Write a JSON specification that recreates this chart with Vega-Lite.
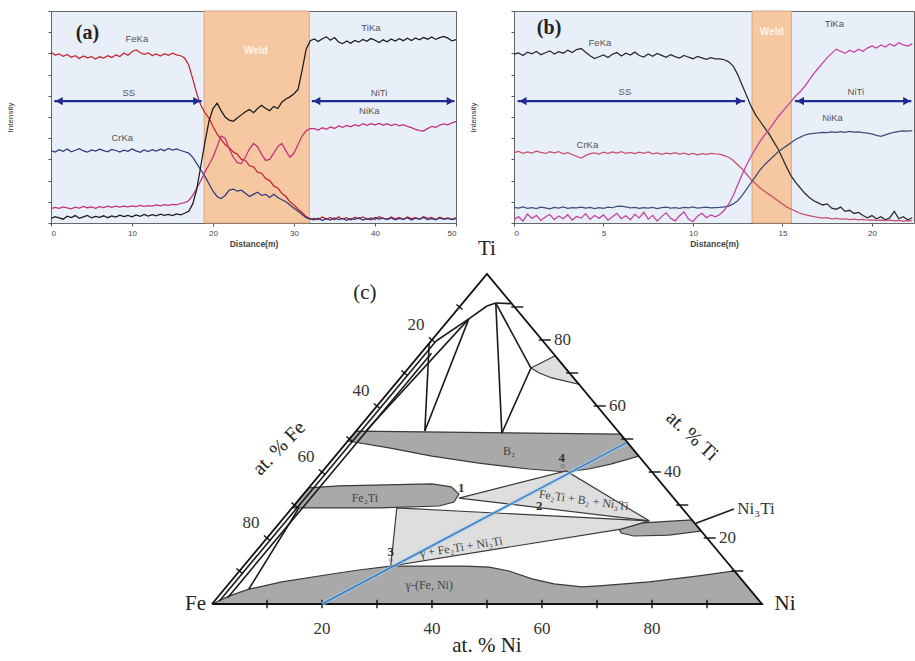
{
"$schema": "https://vega.github.io/schema/vega-lite/v6.json",
"padding": {"left": 6, "top": 10, "right": 0, "bottom": 0},
"bounds": "flush",
"spacing": 235,
"config": {"view": {"stroke": null}, "font": "Liberation Sans"},
"resolve": {"scale": {"x": "independent", "y": "independent", "color": "independent"}},
"datasets": {
"lsA": [
{"d":0,"Fe":80.5,"Cr":34.2,"Ni":6.8,"Ti":2.1},{"d":0.5,"Fe":79.2,"Cr":33.5,"Ni":7.4,"Ti":3.0},{"d":1,"Fe":79.8,"Cr":34.6,"Ni":6.9,"Ti":2.4},{"d":1.5,"Fe":78.6,"Cr":33.8,"Ni":7.6,"Ti":1.8},{"d":2,"Fe":79.5,"Cr":34.9,"Ni":7.1,"Ti":3.2},{"d":2.5,"Fe":78.2,"Cr":33.6,"Ni":6.7,"Ti":2.6},{"d":3,"Fe":78.9,"Cr":34.3,"Ni":7.5,"Ti":3.5},{"d":3.5,"Fe":77.6,"Cr":35.1,"Ni":7.0,"Ti":2.2},{"d":4,"Fe":78.8,"Cr":34.0,"Ni":7.8,"Ti":2.9},{"d":4.5,"Fe":77.9,"Cr":33.4,"Ni":7.2,"Ti":3.6},
{"d":5,"Fe":78.5,"Cr":34.5,"Ni":7.6,"Ti":2.4},{"d":5.5,"Fe":77.3,"Cr":33.9,"Ni":6.9,"Ti":3.1},{"d":6,"Fe":78.4,"Cr":34.8,"Ni":7.7,"Ti":2.7},{"d":6.5,"Fe":77.8,"Cr":34.1,"Ni":7.3,"Ti":3.4},{"d":7,"Fe":78.9,"Cr":33.6,"Ni":7.9,"Ti":2.5},{"d":7.5,"Fe":78.1,"Cr":34.7,"Ni":7.4,"Ti":3.3},{"d":8,"Fe":79.3,"Cr":34.2,"Ni":8.0,"Ti":2.8},{"d":8.5,"Fe":78.5,"Cr":33.5,"Ni":7.5,"Ti":3.7},{"d":9,"Fe":80.2,"Cr":34.4,"Ni":7.9,"Ti":3.0},{"d":9.5,"Fe":79.1,"Cr":33.8,"Ni":7.6,"Ti":3.6},
{"d":10,"Fe":80.8,"Cr":34.9,"Ni":8.1,"Ti":2.9},{"d":10.5,"Fe":81.6,"Cr":34.0,"Ni":7.7,"Ti":3.8},{"d":11,"Fe":80.4,"Cr":33.3,"Ni":8.3,"Ti":3.1},{"d":11.5,"Fe":79.6,"Cr":34.5,"Ni":7.8,"Ti":4.0},{"d":12,"Fe":80.2,"Cr":33.7,"Ni":8.2,"Ti":3.3},{"d":12.5,"Fe":79.0,"Cr":34.6,"Ni":8.0,"Ti":3.9},{"d":13,"Fe":79.7,"Cr":33.9,"Ni":8.5,"Ti":3.4},{"d":13.5,"Fe":78.8,"Cr":34.8,"Ni":8.1,"Ti":4.2},{"d":14,"Fe":79.9,"Cr":34.1,"Ni":8.7,"Ti":3.6},{"d":14.5,"Fe":79.1,"Cr":35.2,"Ni":8.3,"Ti":4.1},
{"d":15,"Fe":80.1,"Cr":34.4,"Ni":8.8,"Ti":3.5},{"d":15.5,"Fe":79.3,"Cr":35.0,"Ni":8.6,"Ti":4.3},{"d":16,"Fe":78.9,"Cr":34.2,"Ni":9.2,"Ti":3.8},{"d":16.5,"Fe":77.8,"Cr":33.6,"Ni":9.6,"Ti":4.6},
{"d":17,"Fe":74.5,"Cr":33.0,"Ni":10.5,"Ti":5.5},{"d":17.5,"Fe":68.0,"Cr":31.0,"Ni":13.0,"Ti":9.0},{"d":18,"Fe":61.0,"Cr":28.0,"Ni":16.5,"Ti":16.0},{"d":18.5,"Fe":55.5,"Cr":25.0,"Ni":20.0,"Ti":27.0},{"d":19,"Fe":52.0,"Cr":22.0,"Ni":24.0,"Ti":38.0},{"d":19.5,"Fe":49.5,"Cr":18.5,"Ni":27.5,"Ti":48.0},
{"d":20,"Fe":45.5,"Cr":15.0,"Ni":31.0,"Ti":54.0},{"d":20.5,"Fe":42.0,"Cr":12.5,"Ni":36.0,"Ti":56.5},{"d":21,"Fe":39.5,"Cr":11.5,"Ni":41.0,"Ti":53.0},{"d":21.5,"Fe":37.0,"Cr":13.0,"Ni":40.0,"Ti":50.0},{"d":22,"Fe":35.5,"Cr":15.5,"Ni":35.0,"Ti":48.5},{"d":22.5,"Fe":33.5,"Cr":16.0,"Ni":31.0,"Ti":48.0},{"d":23,"Fe":32.5,"Cr":15.0,"Ni":28.5,"Ti":49.5},{"d":23.5,"Fe":30.0,"Cr":15.5,"Ni":28.0,"Ti":51.0},{"d":24,"Fe":29.5,"Cr":14.0,"Ni":31.0,"Ti":52.5},{"d":24.5,"Fe":27.0,"Cr":12.5,"Ni":35.0,"Ti":53.5},
{"d":25,"Fe":26.5,"Cr":13.5,"Ni":37.5,"Ti":52.0},{"d":25.5,"Fe":24.0,"Cr":14.5,"Ni":36.0,"Ti":54.0},{"d":26,"Fe":23.5,"Cr":13.0,"Ni":32.5,"Ti":55.5},{"d":26.5,"Fe":21.0,"Cr":13.5,"Ni":29.5,"Ti":54.0},{"d":27,"Fe":20.0,"Cr":12.0,"Ni":30.0,"Ti":53.0},{"d":27.5,"Fe":17.5,"Cr":13.5,"Ni":33.0,"Ti":55.0},{"d":28,"Fe":16.5,"Cr":12.0,"Ni":36.0,"Ti":54.0},{"d":28.5,"Fe":14.0,"Cr":11.0,"Ni":37.5,"Ti":57.0},{"d":29,"Fe":12.5,"Cr":10.0,"Ni":34.0,"Ti":58.5},{"d":29.5,"Fe":10.0,"Cr":8.5,"Ni":31.0,"Ti":59.5},
{"d":30,"Fe":8.5,"Cr":7.0,"Ni":33.0,"Ti":61.0},{"d":30.5,"Fe":6.5,"Cr":5.5,"Ni":37.0,"Ti":63.0},{"d":31,"Fe":5.0,"Cr":4.0,"Ni":41.0,"Ti":72.0},{"d":31.5,"Fe":3.0,"Cr":2.5,"Ni":43.5,"Ti":82.0},{"d":32,"Fe":2.0,"Cr":1.8,"Ni":44.5,"Ti":86.0},
{"d":32.5,"Fe":2.2,"Cr":1.5,"Ni":44.5,"Ti":86.8},{"d":33,"Fe":1.6,"Cr":2.3,"Ni":43.8,"Ti":85.6},{"d":33.5,"Fe":2.8,"Cr":1.2,"Ni":44.9,"Ti":86.9},{"d":34,"Fe":1.9,"Cr":2.0,"Ni":44.2,"Ti":87.8},{"d":34.5,"Fe":2.6,"Cr":1.4,"Ni":45.3,"Ti":86.2},{"d":35,"Fe":1.5,"Cr":2.4,"Ni":44.6,"Ti":87.5},{"d":35.5,"Fe":2.9,"Cr":1.6,"Ni":45.8,"Ti":85.4},{"d":36,"Fe":1.8,"Cr":2.2,"Ni":45.1,"Ti":84.6},{"d":36.5,"Fe":2.5,"Cr":1.3,"Ni":46.0,"Ti":85.9},{"d":37,"Fe":1.4,"Cr":2.1,"Ni":45.4,"Ti":84.8},
{"d":37.5,"Fe":2.7,"Cr":1.7,"Ni":46.4,"Ti":86.1},{"d":38,"Fe":2.0,"Cr":2.5,"Ni":45.7,"Ti":85.3},{"d":38.5,"Fe":2.9,"Cr":1.4,"Ni":46.8,"Ti":86.6},{"d":39,"Fe":1.7,"Cr":2.2,"Ni":46.1,"Ti":85.7},{"d":39.5,"Fe":2.4,"Cr":1.5,"Ni":46.9,"Ti":87.0},{"d":40,"Fe":1.6,"Cr":2.6,"Ni":46.3,"Ti":86.2},{"d":40.5,"Fe":3.0,"Cr":1.8,"Ni":47.0,"Ti":85.1},{"d":41,"Fe":2.2,"Cr":2.3,"Ni":46.2,"Ti":86.4},{"d":41.5,"Fe":1.8,"Cr":1.6,"Ni":46.8,"Ti":85.5},{"d":42,"Fe":2.8,"Cr":2.4,"Ni":46.0,"Ti":86.8},
{"d":42.5,"Fe":2.0,"Cr":1.5,"Ni":46.6,"Ti":85.8},{"d":43,"Fe":2.6,"Cr":2.2,"Ni":45.8,"Ti":86.9},{"d":43.5,"Fe":1.7,"Cr":1.7,"Ni":46.4,"Ti":86.0},{"d":44,"Fe":2.9,"Cr":2.5,"Ni":45.6,"Ti":87.2},{"d":44.5,"Fe":2.1,"Cr":1.4,"Ni":45.0,"Ti":86.1},{"d":45,"Fe":2.5,"Cr":2.3,"Ni":44.2,"Ti":87.3},{"d":45.5,"Fe":1.8,"Cr":1.8,"Ni":43.6,"Ti":86.4},{"d":46,"Fe":3.0,"Cr":2.6,"Ni":43.4,"Ti":87.5},{"d":46.5,"Fe":2.2,"Cr":1.6,"Ni":44.5,"Ti":86.7},{"d":47,"Fe":2.6,"Cr":2.1,"Ni":45.6,"Ti":87.8},
{"d":47.5,"Fe":1.6,"Cr":1.5,"Ni":45.1,"Ti":86.6},{"d":48,"Fe":2.7,"Cr":2.4,"Ni":46.2,"Ti":87.4},{"d":48.5,"Fe":2.0,"Cr":1.7,"Ni":46.7,"Ti":88.0},{"d":49,"Fe":2.4,"Cr":2.2,"Ni":46.3,"Ti":87.2},{"d":49.5,"Fe":1.7,"Cr":1.6,"Ni":47.2,"Ti":85.9},{"d":50,"Fe":2.5,"Cr":2.0,"Ni":47.8,"Ti":86.5}
],
"lsB": [
{"d":0,"Fe":79.5,"Cr":33.2,"Ni":7.4,"Ti":1.5},{"d":0.25,"Fe":80.2,"Cr":33.8,"Ni":7.0,"Ti":3.0},{"d":0.5,"Fe":79.0,"Cr":32.9,"Ni":7.6,"Ti":0.8},{"d":0.75,"Fe":80.6,"Cr":33.5,"Ni":6.9,"Ti":4.2},{"d":1,"Fe":79.8,"Cr":33.0,"Ni":7.3,"Ti":2.1},{"d":1.25,"Fe":80.9,"Cr":33.9,"Ni":6.8,"Ti":3.6},{"d":1.5,"Fe":79.4,"Cr":33.3,"Ni":7.5,"Ti":1.2},{"d":1.75,"Fe":80.3,"Cr":32.8,"Ni":7.1,"Ti":2.8},{"d":2,"Fe":81.2,"Cr":33.6,"Ni":6.7,"Ti":4.0},{"d":2.25,"Fe":79.7,"Cr":33.1,"Ni":7.4,"Ti":1.6},
{"d":2.5,"Fe":80.8,"Cr":33.7,"Ni":7.0,"Ti":3.3},{"d":2.75,"Fe":80.1,"Cr":32.6,"Ni":7.6,"Ti":2.0},{"d":3,"Fe":81.5,"Cr":33.2,"Ni":6.9,"Ti":3.9},{"d":3.25,"Fe":80.4,"Cr":32.3,"Ni":7.3,"Ti":1.4},{"d":3.5,"Fe":81.8,"Cr":31.4,"Ni":7.1,"Ti":3.1},{"d":3.75,"Fe":82.3,"Cr":30.6,"Ni":7.5,"Ti":2.3},{"d":4,"Fe":80.5,"Cr":31.8,"Ni":7.0,"Ti":4.4},{"d":4.25,"Fe":78.9,"Cr":32.7,"Ni":7.4,"Ti":1.7},{"d":4.5,"Fe":77.6,"Cr":33.1,"Ni":6.8,"Ti":3.5},{"d":4.75,"Fe":78.4,"Cr":32.5,"Ni":7.3,"Ti":2.2},
{"d":5,"Fe":79.3,"Cr":33.4,"Ni":6.9,"Ti":3.8},{"d":5.25,"Fe":78.1,"Cr":32.9,"Ni":7.5,"Ti":1.3},{"d":5.5,"Fe":79.6,"Cr":33.5,"Ni":7.2,"Ti":2.9},{"d":5.75,"Fe":80.4,"Cr":33.0,"Ni":7.8,"Ti":4.5},{"d":6,"Fe":78.8,"Cr":33.6,"Ni":8.0,"Ti":2.0},{"d":6.25,"Fe":80.1,"Cr":32.8,"Ni":7.6,"Ti":3.4},{"d":6.5,"Fe":79.2,"Cr":33.3,"Ni":7.1,"Ti":1.5},{"d":6.75,"Fe":80.6,"Cr":32.7,"Ni":7.4,"Ti":4.1},{"d":7,"Fe":79.0,"Cr":33.4,"Ni":6.9,"Ti":2.4},{"d":7.25,"Fe":78.3,"Cr":32.9,"Ni":7.3,"Ti":5.0},
{"d":7.5,"Fe":79.7,"Cr":33.5,"Ni":7.0,"Ti":1.8},{"d":7.75,"Fe":78.6,"Cr":32.6,"Ni":7.4,"Ti":3.6},{"d":8,"Fe":80.0,"Cr":33.1,"Ni":6.8,"Ti":0.9},{"d":8.25,"Fe":79.1,"Cr":32.4,"Ni":7.2,"Ti":3.0},{"d":8.5,"Fe":78.2,"Cr":33.0,"Ni":7.5,"Ti":4.8},{"d":8.75,"Fe":79.4,"Cr":32.6,"Ni":7.0,"Ti":2.2},{"d":9,"Fe":78.5,"Cr":33.2,"Ni":7.3,"Ti":1.0},{"d":9.25,"Fe":77.8,"Cr":32.5,"Ni":6.9,"Ti":3.4},{"d":9.5,"Fe":79.0,"Cr":32.9,"Ni":7.4,"Ti":5.2},{"d":9.75,"Fe":78.2,"Cr":32.3,"Ni":7.1,"Ti":1.9},
{"d":10,"Fe":77.5,"Cr":32.8,"Ni":7.6,"Ti":0.6},{"d":10.25,"Fe":78.6,"Cr":32.2,"Ni":7.0,"Ti":3.2},{"d":10.5,"Fe":77.9,"Cr":32.7,"Ni":7.3,"Ti":4.6},{"d":10.75,"Fe":77.2,"Cr":32.4,"Ni":7.5,"Ti":2.5},{"d":11,"Fe":78.0,"Cr":32.8,"Ni":7.1,"Ti":3.8},{"d":11.25,"Fe":77.4,"Cr":32.6,"Ni":7.3,"Ti":2.9},{"d":11.5,"Fe":77.4,"Cr":32.5,"Ni":7.4,"Ti":4.0},{"d":11.75,"Fe":77.0,"Cr":31.8,"Ni":7.6,"Ti":6.0},
{"d":12,"Fe":76.0,"Cr":31.0,"Ni":8.0,"Ti":9.0},{"d":12.25,"Fe":74.0,"Cr":29.5,"Ni":9.0,"Ti":13.0},{"d":12.5,"Fe":70.0,"Cr":27.5,"Ni":10.5,"Ti":18.0},{"d":12.75,"Fe":65.0,"Cr":25.5,"Ni":13.0,"Ti":23.0},{"d":13,"Fe":60.0,"Cr":23.0,"Ni":16.0,"Ti":27.5},{"d":13.25,"Fe":55.0,"Cr":20.5,"Ni":19.0,"Ti":31.5},{"d":13.5,"Fe":51.0,"Cr":18.5,"Ni":22.0,"Ti":35.0},{"d":13.75,"Fe":48.0,"Cr":16.5,"Ni":25.0,"Ti":38.5},
{"d":14,"Fe":45.0,"Cr":15.0,"Ni":27.5,"Ti":41.5},{"d":14.25,"Fe":42.0,"Cr":13.5,"Ni":29.5,"Ti":44.0},{"d":14.5,"Fe":38.5,"Cr":12.0,"Ni":31.5,"Ti":47.0},{"d":14.75,"Fe":35.0,"Cr":10.5,"Ni":33.5,"Ti":50.0},{"d":15,"Fe":30.5,"Cr":9.0,"Ni":35.0,"Ti":52.5},{"d":15.25,"Fe":26.0,"Cr":7.5,"Ni":36.5,"Ti":55.0},{"d":15.5,"Fe":22.0,"Cr":6.5,"Ni":38.0,"Ti":57.5},{"d":15.75,"Fe":19.0,"Cr":5.5,"Ni":39.5,"Ti":60.0},
{"d":16,"Fe":16.5,"Cr":4.5,"Ni":40.5,"Ti":62.0},{"d":16.25,"Fe":14.0,"Cr":4.0,"Ni":41.5,"Ti":64.5},{"d":16.5,"Fe":12.0,"Cr":3.5,"Ni":42.0,"Ti":67.5},{"d":16.75,"Fe":10.5,"Cr":3.0,"Ni":42.3,"Ti":70.5},{"d":17,"Fe":9.5,"Cr":2.6,"Ni":42.5,"Ti":73.0},{"d":17.25,"Fe":8.5,"Cr":2.3,"Ni":42.8,"Ti":75.5},{"d":17.5,"Fe":9.0,"Cr":2.5,"Ni":42.6,"Ti":78.0},{"d":17.75,"Fe":7.0,"Cr":2.0,"Ni":43.0,"Ti":80.0},
{"d":18,"Fe":6.5,"Cr":2.2,"Ni":42.7,"Ti":82.0},{"d":18.25,"Fe":7.5,"Cr":1.8,"Ni":43.1,"Ti":81.0},{"d":18.5,"Fe":5.5,"Cr":2.0,"Ni":42.8,"Ti":80.0},{"d":18.75,"Fe":6.0,"Cr":1.6,"Ni":43.2,"Ti":81.5},{"d":19,"Fe":4.5,"Cr":1.8,"Ni":42.9,"Ti":80.5},{"d":19.25,"Fe":5.0,"Cr":1.5,"Ni":43.0,"Ti":82.0},{"d":19.5,"Fe":3.5,"Cr":1.7,"Ni":42.6,"Ti":81.0},{"d":19.75,"Fe":2.5,"Cr":1.3,"Ni":42.4,"Ti":82.5},
{"d":20,"Fe":3.5,"Cr":1.5,"Ni":42.0,"Ti":83.5},{"d":20.25,"Fe":2.0,"Cr":1.2,"Ni":41.3,"Ti":82.5},{"d":20.5,"Fe":3.0,"Cr":1.4,"Ni":40.9,"Ti":84.0},{"d":20.75,"Fe":1.5,"Cr":1.1,"Ni":41.6,"Ti":83.0},{"d":21,"Fe":2.5,"Cr":1.3,"Ni":42.3,"Ti":84.5},{"d":21.25,"Fe":5.5,"Cr":1.0,"Ni":42.8,"Ti":83.5},{"d":21.5,"Fe":2.0,"Cr":1.2,"Ni":43.2,"Ti":85.0},{"d":21.75,"Fe":3.0,"Cr":0.9,"Ni":43.5,"Ti":84.0},{"d":22,"Fe":1.5,"Cr":1.1,"Ni":43.3,"Ti":83.5},{"d":22.25,"Fe":2.5,"Cr":1.0,"Ni":43.6,"Ti":84.5}
],
"poly": [
{"g":"gam","k":"dark","X":0,"Y":0},{"g":"gam","k":"dark","X":100,"Y":0},{"g":"gam","k":"dark","X":95,"Y":10},{"g":"gam","k":"dark","X":88.5,"Y":8.5},{"g":"gam","k":"dark","X":79.5,"Y":6.7},{"g":"gam","k":"dark","X":70.4,"Y":5.5},{"g":"gam","k":"dark","X":67.3,"Y":5.2},{"g":"gam","k":"dark","X":62.2,"Y":6.1},{"g":"gam","k":"dark","X":58.2,"Y":7.6},{"g":"gam","k":"dark","X":54.0,"Y":10.0},{"g":"gam","k":"dark","X":50.4,"Y":11.2},{"g":"gam","k":"dark","X":46.2,"Y":11.5},{"g":"gam","k":"dark","X":39.5,"Y":11.5},{"g":"gam","k":"dark","X":32.5,"Y":11.5},{"g":"gam","k":"dark","X":26.7,"Y":10.3},{"g":"gam","k":"dark","X":21.8,"Y":9.1},{"g":"gam","k":"dark","X":12.7,"Y":6.7},{"g":"gam","k":"dark","X":6.7,"Y":4.5},{"g":"gam","k":"dark","X":3.1,"Y":2.4},{"g":"gam","k":"dark","X":0,"Y":0},
{"g":"b2","k":"dark","X":24.7,"Y":49.4},{"g":"b2","k":"dark","X":26.2,"Y":52.4},{"g":"b2","k":"dark","X":74.3,"Y":51.5},{"g":"b2","k":"dark","X":77.6,"Y":44.8},{"g":"b2","k":"dark","X":72.5,"Y":42.4},{"g":"b2","k":"dark","X":68.5,"Y":40.9},{"g":"b2","k":"dark","X":64.4,"Y":40.0},{"g":"b2","k":"dark","X":57.6,"Y":40.9},{"g":"b2","k":"dark","X":48.5,"Y":42.7},{"g":"b2","k":"dark","X":40.0,"Y":44.8},{"g":"b2","k":"dark","X":32.2,"Y":47.3},{"g":"b2","k":"dark","X":24.7,"Y":49.4},
{"g":"fe2ti","k":"dark","X":17.6,"Y":35.2},{"g":"fe2ti","k":"dark","X":23.1,"Y":35.8},{"g":"fe2ti","k":"dark","X":40.0,"Y":36.4},{"g":"fe2ti","k":"dark","X":43.5,"Y":35.5},{"g":"fe2ti","k":"dark","X":44.9,"Y":33.3},{"g":"fe2ti","k":"dark","X":44.0,"Y":30.9},{"g":"fe2ti","k":"dark","X":41.3,"Y":29.7},{"g":"fe2ti","k":"dark","X":30.4,"Y":29.1},{"g":"fe2ti","k":"dark","X":14.6,"Y":29.1},{"g":"fe2ti","k":"dark","X":17.6,"Y":35.2},
{"g":"ni3ti","k":"dark","X":74.0,"Y":22.7},{"g":"ni3ti","k":"dark","X":77.6,"Y":24.5},{"g":"ni3ti","k":"dark","X":87.3,"Y":25.5},{"g":"ni3ti","k":"dark","X":88.9,"Y":22.1},{"g":"ni3ti","k":"dark","X":83.1,"Y":20.9},{"g":"ni3ti","k":"dark","X":76.7,"Y":20.6},{"g":"ni3ti","k":"dark","X":74.4,"Y":21.5},{"g":"ni3ti","k":"dark","X":74.0,"Y":22.7},
{"g":"triA","k":"light","X":44.9,"Y":32.1},{"g":"triA","k":"light","X":64.4,"Y":40.3},{"g":"triA","k":"light","X":79.5,"Y":25.2},{"g":"triA","k":"light","X":44.9,"Y":32.1},
{"g":"triB","k":"light","X":33.6,"Y":29.1},{"g":"triB","k":"light","X":79.5,"Y":25.2},{"g":"triB","k":"light","X":74.4,"Y":22.7},{"g":"triB","k":"light","X":32.5,"Y":11.5},{"g":"triB","k":"light","X":33.6,"Y":29.1},
{"g":"gsm","k":"light","X":58.0,"Y":71.5},{"g":"gsm","k":"light","X":62.4,"Y":75.2},{"g":"gsm","k":"light","X":66.7,"Y":66.6},{"g":"gsm","k":"light","X":61.8,"Y":68.5},{"g":"gsm","k":"light","X":59.5,"Y":70.0},{"g":"gsm","k":"light","X":58.0,"Y":71.5}
],
"segs": [
{"X":40.75,"Y":79.7,"X2":1.35,"Y2":0.9},{"X":39.9,"Y":76.0,"X2":2.9,"Y2":2.0},{"X":15.8,"Y":29.1,"X2":6.7,"Y2":4.5},
{"X":40.75,"Y":79.7,"X2":46.7,"Y2":86.4},{"X":46.7,"Y":86.4,"X2":50.0,"Y2":90.3},{"X":50.0,"Y":90.3,"X2":51.6,"Y2":91.2},{"X":51.6,"Y":91.2,"X2":54.5,"Y2":91.0},
{"X":46.7,"Y":86.4,"X2":38.7,"Y2":52.4},{"X":46.7,"Y":86.4,"X2":28.0,"Y2":52.4},{"X":39.5,"Y":79.1,"X2":38.7,"Y2":52.4},{"X":51.6,"Y":91.2,"X2":52.7,"Y2":51.8},{"X":51.6,"Y":91.2,"X2":58.0,"Y2":71.5},{"X":58.0,"Y":71.5,"X2":52.7,"Y2":51.8},
{"X":88.0,"Y":24.5,"X2":94.9,"Y2":28.8}
],
"ticks": [
{"X":10,"Y":-1.3,"X2":10,"Y2":1.3},{"X":20,"Y":-1.3,"X2":20,"Y2":1.3},{"X":30,"Y":-1.3,"X2":30,"Y2":1.3},{"X":40,"Y":-1.3,"X2":40,"Y2":1.3},{"X":50,"Y":-1.3,"X2":50,"Y2":1.3},{"X":60,"Y":-1.3,"X2":60,"Y2":1.3},{"X":70,"Y":-1.3,"X2":70,"Y2":1.3},{"X":80,"Y":-1.3,"X2":80,"Y2":1.3},{"X":90,"Y":-1.3,"X2":90,"Y2":1.3},
{"X":94.4,"Y":10,"X2":96.6,"Y2":10},{"X":89.4,"Y":20,"X2":91.6,"Y2":20},{"X":84.4,"Y":30,"X2":86.6,"Y2":30},{"X":79.4,"Y":40,"X2":81.6,"Y2":40},{"X":74.4,"Y":50,"X2":76.6,"Y2":50},{"X":69.4,"Y":60,"X2":71.6,"Y2":60},{"X":64.4,"Y":70,"X2":66.6,"Y2":70},{"X":59.4,"Y":80,"X2":61.6,"Y2":80},{"X":54.4,"Y":90,"X2":56.6,"Y2":90},
{"X":4.44,"Y":10.78,"X2":5.56,"Y2":9.22},{"X":9.44,"Y":20.78,"X2":10.56,"Y2":19.22},{"X":14.44,"Y":30.78,"X2":15.56,"Y2":29.22},{"X":19.44,"Y":40.78,"X2":20.56,"Y2":39.22},{"X":24.44,"Y":50.78,"X2":25.56,"Y2":49.22},{"X":29.44,"Y":60.78,"X2":30.56,"Y2":59.22},{"X":34.44,"Y":70.78,"X2":35.56,"Y2":69.22},{"X":39.44,"Y":80.78,"X2":40.56,"Y2":79.22},{"X":44.44,"Y":90.78,"X2":45.56,"Y2":89.22}
]
},
"vconcat": [
{
"hconcat": [
{
"width": 405, "height": 212,
"view": {"stroke": "#666", "fill": "#e9eff8"},
"encoding": {
"x": {"field": "d", "type": "quantitative", "scale": {"domain": [0, 50], "nice": false}, "axis": {"title": "Distance(m)", "values": [0,10,20,30,40,50], "grid": false, "domain": false, "tickSize": 3, "tickColor": "#555", "labelFontSize": 8, "labelColor": "#444", "labelPadding": 3, "titleFontSize": 8.5, "titleFontWeight": "bold", "titleColor": "#444", "titlePadding": 2}},
"y": {"field": "v", "type": "quantitative", "scale": {"domain": [0, 100], "nice": false}, "axis": {"title": "Intensity", "labels": false, "grid": false, "domain": false, "tickCount": 10, "tickSize": 3, "tickColor": "#555", "titleFontSize": 8, "titleFontWeight": "normal", "titleColor": "#333", "titlePadding": 33}}
},
"layer": [
{"data": {"values": [{"d": 18.9, "d2": 31.9, "v": 0, "v2": 100}]}, "mark": {"type": "rect", "fill": "#f6c8a2", "stroke": "#d49a74", "strokeWidth": 0.8}, "encoding": {"x2": {"field": "d2"}, "y2": {"field": "v2"}}},
{"data": {"name": "lsA"}, "transform": [{"fold": ["Fe", "Cr", "Ni", "Ti"], "as": ["e", "v"]}], "mark": {"type": "line", "strokeWidth": 1.25}, "encoding": {"color": {"field": "e", "type": "nominal", "scale": {"domain": ["Fe", "Cr", "Ni", "Ti"], "range": ["#c8202e", "#2f3a7a", "#c4307a", "#1a1a1a"]}, "legend": null}}},
{"data": {"values": [{"d": 0.4, "d2": 18.6, "v": 57.5}, {"d": 32.2, "d2": 49.8, "v": 57.5}]}, "mark": {"type": "rule", "color": "#1f2c8f", "strokeWidth": 2.2}, "encoding": {"x2": {"field": "d2"}}},
{"data": {"values": [{"d": 1.0, "v": 57.5, "s": "L"}, {"d": 18.0, "v": 57.5, "s": "R"}, {"d": 32.8, "v": 57.5, "s": "L"}, {"d": 49.3, "v": 57.5, "s": "R"}]}, "mark": {"type": "point", "filled": true, "size": 70, "color": "#1f2c8f", "opacity": 1}, "encoding": {"shape": {"field": "s", "type": "nominal", "scale": {"domain": ["L", "R"], "range": ["triangle-left", "triangle-right"]}, "legend": null}}},
{"data": {"values": [{"d": 10.6, "v": 87, "t": "FeKa"}, {"d": 8.8, "v": 40, "t": "CrKa"}, {"d": 39.5, "v": 92, "t": "TiKa"}, {"d": 39.3, "v": 52.8, "t": "NiKa"}, {"d": 9.6, "v": 61.5, "t": "SS"}, {"d": 40.5, "v": 61.5, "t": "NiTi"}]}, "mark": {"type": "text", "fontSize": 9.5, "color": "#555"}, "encoding": {"text": {"field": "t"}}},
{"data": {"values": [{"d": 25.3, "v": 81, "t": "Weld"}]}, "mark": {"type": "text", "fontSize": 10, "fontWeight": "bold", "color": "#fdf4ec"}, "encoding": {"text": {"field": "t"}}},
{"data": {"values": [{"d": 4.5, "v": 89.6, "t": "(a)"}]}, "mark": {"type": "text", "fontSize": 20, "font": "Liberation Serif", "fontWeight": "bold", "color": "#222"}, "encoding": {"text": {"field": "t"}}}
]
},
{
"width": 400, "height": 212,
"view": {"stroke": "#666", "fill": "#e9eff8"},
"encoding": {
"x": {"field": "d", "type": "quantitative", "scale": {"domain": [0, 22.35], "nice": false}, "axis": {"title": "Distance(m)", "values": [0,5,10,15,20], "grid": false, "domain": false, "tickSize": 3, "tickColor": "#555", "labelFontSize": 8, "labelColor": "#444", "labelPadding": 3, "titleFontSize": 8.5, "titleFontWeight": "bold", "titleColor": "#444", "titlePadding": 2}},
"y": {"field": "v", "type": "quantitative", "scale": {"domain": [0, 100], "nice": false}, "axis": {"title": "Intensity", "labels": false, "grid": false, "domain": false, "tickCount": 10, "tickSize": 3, "tickColor": "#555", "titleFontSize": 8, "titleFontWeight": "normal", "titleColor": "#333", "titlePadding": 33}}
},
"layer": [
{"data": {"values": [{"d": 13.3, "d2": 15.5, "v": 0, "v2": 100}]}, "mark": {"type": "rect", "fill": "#f6c8a2", "stroke": "#d49a74", "strokeWidth": 0.8}, "encoding": {"x2": {"field": "d2"}, "y2": {"field": "v2"}}},
{"data": {"name": "lsB"}, "transform": [{"fold": ["Fe", "Cr", "Ni", "Ti"], "as": ["e", "v"]}], "mark": {"type": "line", "strokeWidth": 1.25}, "encoding": {"color": {"field": "e", "type": "nominal", "scale": {"domain": ["Fe", "Cr", "Ni", "Ti"], "range": ["#2a2a2a", "#c8506a", "#3d4f7a", "#c23fa0"]}, "legend": null}}},
{"data": {"values": [{"d": 0.2, "d2": 12.9, "v": 57.5}, {"d": 15.7, "d2": 22.2, "v": 57.5}]}, "mark": {"type": "rule", "color": "#1f2c8f", "strokeWidth": 2.2}, "encoding": {"x2": {"field": "d2"}}},
{"data": {"values": [{"d": 0.5, "v": 57.5, "s": "L"}, {"d": 12.6, "v": 57.5, "s": "R"}, {"d": 16.0, "v": 57.5, "s": "L"}, {"d": 21.95, "v": 57.5, "s": "R"}]}, "mark": {"type": "point", "filled": true, "size": 70, "color": "#1f2c8f", "opacity": 1}, "encoding": {"shape": {"field": "s", "type": "nominal", "scale": {"domain": ["L", "R"], "range": ["triangle-left", "triangle-right"]}, "legend": null}}},
{"data": {"values": [{"d": 4.8, "v": 85, "t": "FeKa"}, {"d": 4.1, "v": 37, "t": "CrKa"}, {"d": 17.9, "v": 94, "t": "TiKa"}, {"d": 17.8, "v": 49.5, "t": "NiKa"}, {"d": 6.2, "v": 62, "t": "SS"}, {"d": 19.1, "v": 62, "t": "NiTi"}]}, "mark": {"type": "text", "fontSize": 9.5, "color": "#555"}, "encoding": {"text": {"field": "t"}}},
{"data": {"values": [{"d": 14.4, "v": 90, "t": "Weld"}]}, "mark": {"type": "text", "fontSize": 10, "fontWeight": "bold", "color": "#fdf4ec"}, "encoding": {"text": {"field": "t"}}},
{"data": {"values": [{"d": 1.96, "v": 92, "t": "(b)"}]}, "mark": {"type": "text", "fontSize": 20, "font": "Liberation Serif", "fontWeight": "bold", "color": "#222"}, "encoding": {"text": {"field": "t"}}}
]
}
],
"spacing": 58,
"bounds": "flush",
"resolve": {"scale": {"x": "independent", "y": "independent", "color": "independent"}}
},
{
"width": 863, "height": 395,
"encoding": {
"x": {"field": "X", "type": "quantitative", "scale": {"domain": [-29.27, 127.64], "nice": false, "zero": false}, "axis": null},
"y": {"field": "Y", "type": "quantitative", "scale": {"domain": [-11.21, 108.48], "nice": false, "zero": false}, "axis": null}
},
"layer": [
{"data": {"name": "poly"}, "transform": [{"filter": "datum.k == 'dark'"}], "mark": {"type": "line", "fill": "#a9a9a9", "stroke": "#3a3a3a", "strokeWidth": 1.2}, "encoding": {"detail": {"field": "g"}, "order": {"value": null}}},
{"data": {"name": "poly"}, "transform": [{"filter": "datum.k == 'light'"}], "mark": {"type": "line", "fill": "#dedede", "stroke": "#3a3a3a", "strokeWidth": 1.2}, "encoding": {"detail": {"field": "g"}, "order": {"value": null}}},
{"data": {"name": "segs"}, "mark": {"type": "rule", "color": "#1a1a1a", "strokeWidth": 1.6}, "encoding": {"x2": {"field": "X2"}, "y2": {"field": "Y2"}}},
{"data": {"values": [{"X": 0, "Y": 0}, {"X": 100, "Y": 0}, {"X": 50, "Y": 100}, {"X": 0, "Y": 0}]}, "mark": {"type": "line", "color": "#111", "strokeWidth": 1.8}, "encoding": {"order": {"value": null}}},
{"data": {"name": "ticks"}, "mark": {"type": "rule", "color": "#111", "strokeWidth": 1.4}, "encoding": {"x2": {"field": "X2"}, "y2": {"field": "Y2"}}},
{"data": {"values": [{"X": 20, "Y": 0, "X2": 75.3, "Y2": 48.8}]}, "mark": {"type": "rule", "color": "#a9cbea", "strokeWidth": 4, "opacity": 0.7}, "encoding": {"x2": {"field": "X2"}, "y2": {"field": "Y2"}}},
{"data": {"values": [{"X": 20, "Y": 0, "X2": 75.3, "Y2": 48.8}]}, "mark": {"type": "rule", "color": "#3a7fc4", "strokeWidth": 1.5}, "encoding": {"x2": {"field": "X2"}, "y2": {"field": "Y2"}}},
{"data": {"values": [{"X": 32.5, "Y": 13.3}, {"X": 63.8, "Y": 41.8}]}, "mark": {"type": "point", "size": 10, "color": "#555", "strokeWidth": 0.8}},
{"data": {"values": [{"X": 20, "Y": -7.6, "t": "20"}, {"X": 40, "Y": -7.6, "t": "40"}, {"X": 60, "Y": -7.6, "t": "60"}, {"X": 80, "Y": -7.6, "t": "80"}, {"X": 37.1, "Y": 84.6, "t": "20"}, {"X": 27.1, "Y": 64.6, "t": "40"}, {"X": 17.1, "Y": 44.6, "t": "60"}, {"X": 7.1, "Y": 24.6, "t": "80"}]}, "mark": {"type": "text", "font": "Liberation Serif", "fontSize": 17, "color": "#333"}, "encoding": {"text": {"field": "t"}}},
{"data": {"values": [{"X": 62.2, "Y": 80, "t": "80"}, {"X": 72.2, "Y": 60, "t": "60"}, {"X": 82.2, "Y": 40, "t": "40"}, {"X": 92.2, "Y": 20, "t": "20"}, {"X": 95.5, "Y": 28.8, "t": "Ni₃Ti"}]}, "mark": {"type": "text", "font": "Liberation Serif", "fontSize": 17, "color": "#333", "align": "left"}, "encoding": {"text": {"field": "t"}}},
{"data": {"values": [{"X": 50, "Y": 107.6, "t": "Ti"}, {"X": -3.0, "Y": 0, "t": "Fe"}, {"X": 104.2, "Y": 0, "t": "Ni"}, {"X": 50, "Y": -12.7, "t": "at. % Ni"}, {"X": 27.8, "Y": 94.2, "t": "(c)"}]}, "mark": {"type": "text", "font": "Liberation Serif", "fontSize": 21, "color": "#222"}, "encoding": {"text": {"field": "t"}}},
{"data": {"values": [{"X": 12.2, "Y": 47.2, "t": "at. % Fe"}]}, "mark": {"type": "text", "font": "Liberation Serif", "fontSize": 20, "color": "#222", "angle": 314}, "encoding": {"text": {"field": "t"}}},
{"data": {"values": [{"X": 87.3, "Y": 50.9, "t": "at. % Ti"}]}, "mark": {"type": "text", "font": "Liberation Serif", "fontSize": 20, "color": "#222", "angle": 43}, "encoding": {"text": {"field": "t"}}},
{"data": {"values": [{"X": 54, "Y": 46.4, "t": "B₂"}, {"X": 27.8, "Y": 32.1, "t": "Fe₂Ti"}, {"X": 39.5, "Y": 5.8, "t": "γ-(Fe, Ni)"}]}, "mark": {"type": "text", "font": "Liberation Serif", "fontSize": 12, "color": "#444"}, "encoding": {"text": {"field": "t"}}},
{"data": {"values": [{"X": 45.3, "Y": 17.3, "t": "γ + Fe₂Ti + Ni₃Ti"}]}, "mark": {"type": "text", "font": "Liberation Serif", "fontSize": 12, "color": "#444", "angle": 351}, "encoding": {"text": {"field": "t"}}},
{"data": {"values": [{"X": 67.6, "Y": 31.5, "t": "Fe₂Ti + B₂ + Ni₃Ti"}]}, "mark": {"type": "text", "font": "Liberation Serif", "fontSize": 12, "color": "#444", "angle": 8}, "encoding": {"text": {"field": "t"}}},
{"data": {"values": [{"X": 45.3, "Y": 35.2, "t": "1"}, {"X": 59.5, "Y": 29.7, "t": "2"}, {"X": 32.5, "Y": 15.8, "t": "3"}, {"X": 63.6, "Y": 44.2, "t": "4"}]}, "mark": {"type": "text", "font": "Liberation Serif", "fontSize": 13, "fontWeight": "bold", "color": "#333"}, "encoding": {"text": {"field": "t"}}}
]
}
]
}
